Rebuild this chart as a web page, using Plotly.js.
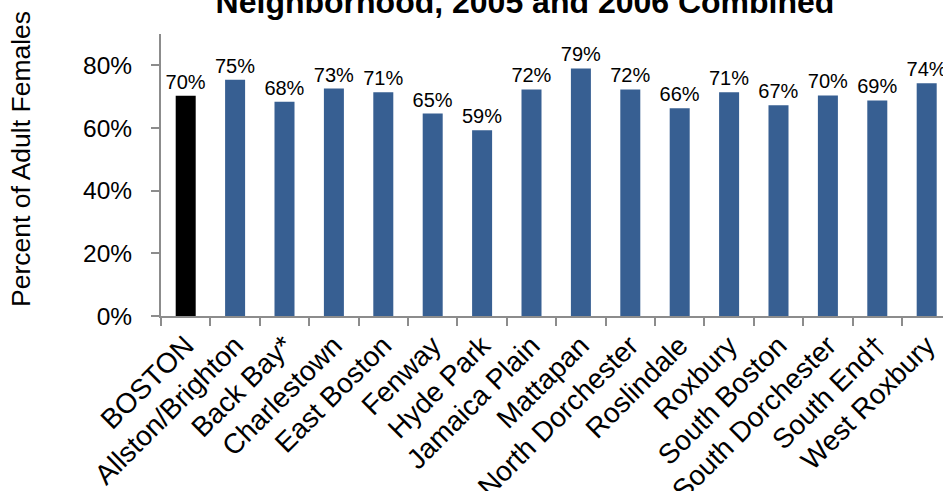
<!DOCTYPE html>
<html>
<head>
<meta charset="utf-8">
<script src="https://cdn.plot.ly/plotly-3.0.1.min.js"></script>
<style>html,body{margin:0;padding:0;background:#fff;}#chart{width:943px;height:491px;}</style>
</head>
<body>
<div id="chart"></div>
<script>
const categories = ["BOSTON","Allston/Brighton","Back Bay*","Charlestown","East Boston","Fenway","Hyde Park","Jamaica Plain","Mattapan","North Dorchester","Roslindale","Roxbury","South Boston","South Dorchester","South End\u2020","West Roxbury"];
const values = [70.3, 75.4, 68.4, 72.6, 71.4, 64.6, 59.3, 72.3, 79.0, 72.3, 66.3, 71.4, 67.3, 70.4, 68.8, 74.3];
const yTicks = [0, 20, 40, 60, 80];
const yTickLabels = ["0%", "20%", "40%", "60%", "80%"];
const titleText = "Neighborhood, 2005 and 2006 Combined";
const yTitleText = "Percent of Adult Females";

const FONT = "Liberation Sans, Arial, sans-serif";
const barColors = categories.map((c, i) => i === 0 ? "#000000" : "#375F92");
const labels = values.map(v => Math.round(v) + "%");

const trace = {
  type: "bar",
  x: categories,
  y: values,
  text: labels,
  textposition: "outside",
  constraintext: "none",
  cliponaxis: false,
  textfont: {family: FONT, size: 20, color: "#000"},
  marker: {color: barColors},
  hoverinfo: "none"
};

const layout = {
  width: 943,
  height: 491,
  margin: {l: 161, r: 0, t: 34, b: 175},
  paper_bgcolor: "#fff",
  plot_bgcolor: "#fff",
  bargap: 0.595,
  showlegend: false,
  font: {family: FONT, color: "#000"},
  title: {
    text: "<b>" + titleText + "</b>",
    font: {family: FONT, size: 32, color: "#000"},
    xref: "container", x: 525/943, xanchor: "center",
    yref: "container", y: 1 - 2/491, yanchor: "middle"
  },
  xaxis: {
    type: "category",
    range: [-0.5, 15.33],
    showline: true, linecolor: "#8C8C8C", linewidth: 2,
    ticks: "outside", tickson: "boundaries", ticklen: 8, tickcolor: "#8C8C8C", tickwidth: 2,
    tickangle: -45,
    tickfont: {family: FONT, size: 28, color: "#000"},
    showgrid: false, zeroline: false
  },
  yaxis: {
    range: [0, 90],
    tickvals: yTicks, ticktext: yTickLabels,
    showline: true, linecolor: "#8C8C8C", linewidth: 2,
    ticks: "outside", ticklen: 8, tickcolor: "#8C8C8C", tickwidth: 2,
    ticklabelstandoff: 14,
    tickfont: {family: FONT, size: 24.5, color: "#000"},
    showgrid: false, zeroline: false
  },
  annotations: [{
    text: yTitleText,
    textangle: -90,
    font: {family: FONT, size: 26.5, color: "#000"},
    xref: "paper", yref: "paper",
    x: (21 - 161) / 782, xanchor: "center",
    y: (316 - 159) / 282, yanchor: "middle",
    showarrow: false
  }]
};

Plotly.newPlot("chart", [trace], layout, {displayModeBar: false, staticPlot: true});
</script>
</body>
</html>
